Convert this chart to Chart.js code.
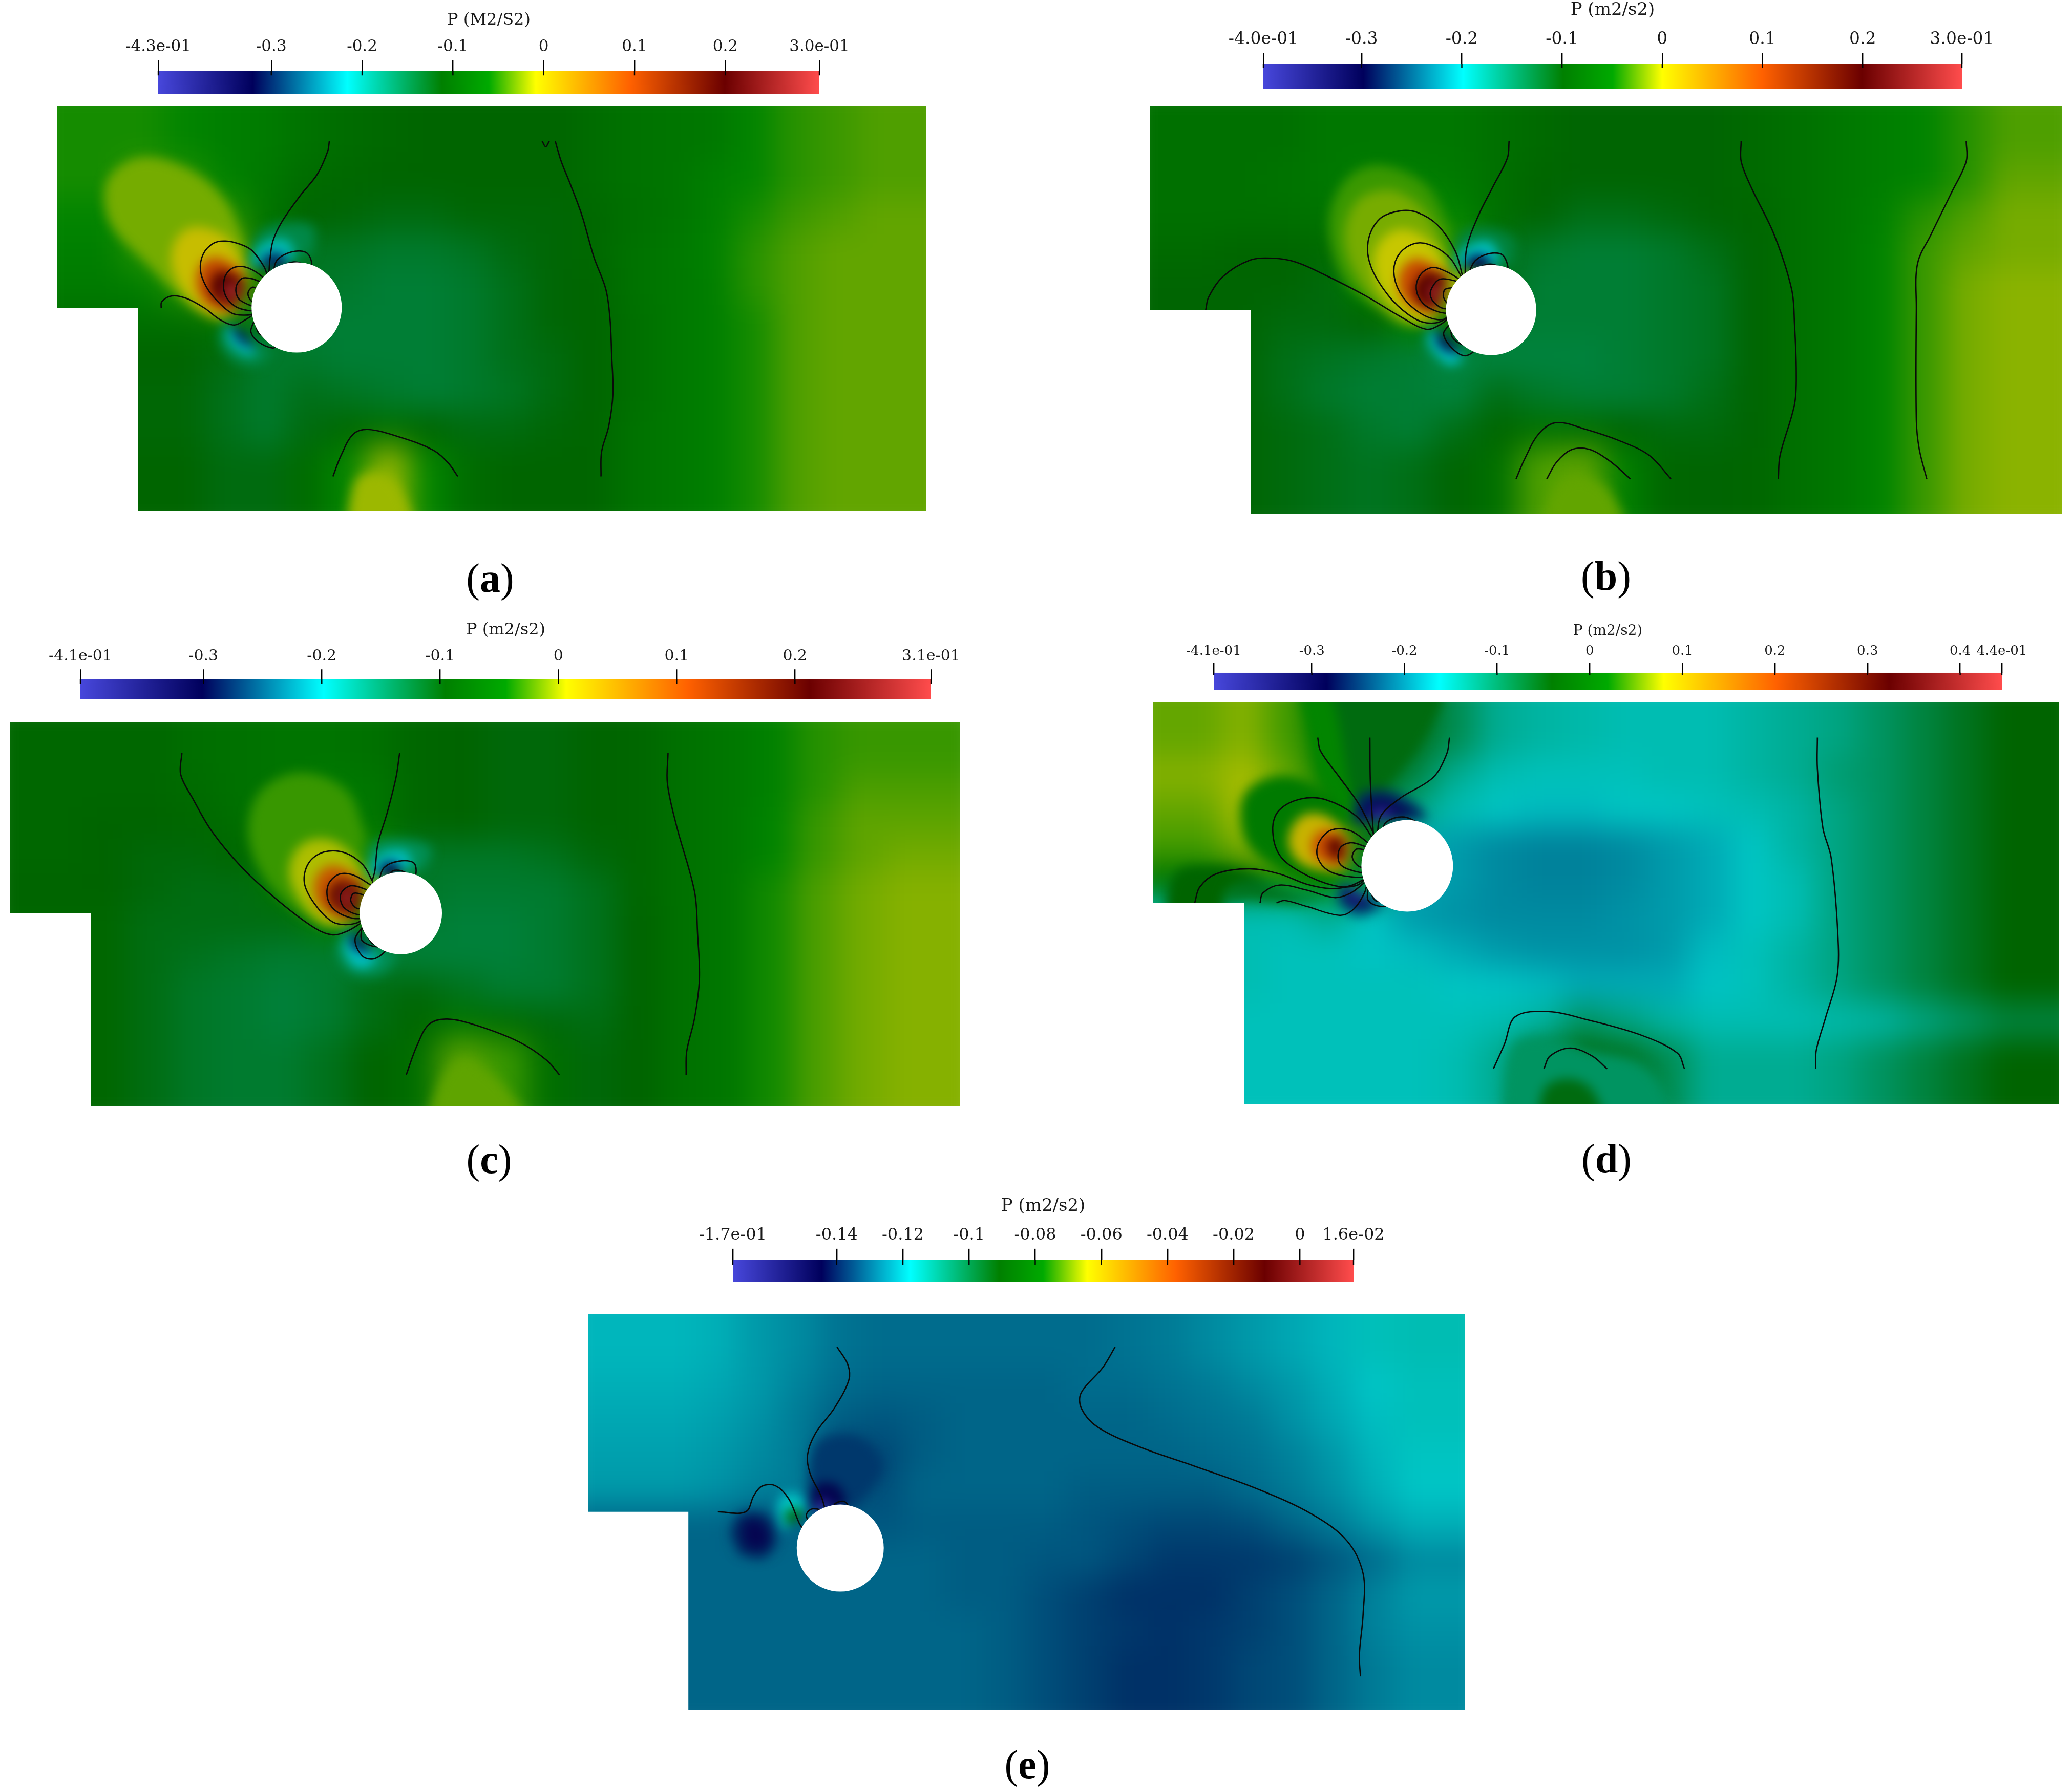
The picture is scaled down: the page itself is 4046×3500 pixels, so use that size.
<!DOCTYPE html>
<html>
<head>
<meta charset="utf-8">
<title>P (m2/s2)</title>
<script src="https://cdn.jsdelivr.net/npm/chart.js@4"></script>
<style>
html,body{margin:0;padding:0;background:#fff}
#page{position:relative;width:4046px;height:3500px;overflow:hidden;background:#fff}
.domain{position:absolute;overflow:hidden}
.domain canvas,.bar canvas{position:absolute}
.bar{position:absolute}
.cap{position:absolute;font-family:"Liberation Serif",serif;font-size:80px;line-height:100px;color:#000;transform:translate(-50%,-50%)}
</style>
</head>
<body>
<div id="page"></div>
<script>
// colour bar ticks
const ticksA = [-0.4245,-0.3,-0.2,-0.1,0,0.1,0.2,0.3036];
const tickLabelsA = ['-4.3e-01','-0.3','-0.2','-0.1','0','0.1','0.2','3.0e-01'];
const ticksB = [-0.398,-0.3,-0.2,-0.1,0,0.1,0.2,0.299];
const tickLabelsB = ['-4.0e-01','-0.3','-0.2','-0.1','0','0.1','0.2','3.0e-01'];
const ticksC = [-0.404,-0.3,-0.2,-0.1,0,0.1,0.2,0.315];
const tickLabelsC = ['-4.1e-01','-0.3','-0.2','-0.1','0','0.1','0.2','3.1e-01'];
const ticksD = [-0.406,-0.3,-0.2,-0.1,0,0.1,0.2,0.3,0.4,0.445];
const tickLabelsD = ['-4.1e-01','-0.3','-0.2','-0.1','0','0.1','0.2','0.3','0.4','4.4e-01'];
const ticksE = [-0.1714,-0.14,-0.12,-0.1,-0.08,-0.06,-0.04,-0.02,0,0.0162];
const tickLabelsE = ['-1.7e-01','-0.14','-0.12','-0.1','-0.08','-0.06','-0.04','-0.02','0','1.6e-02'];

// pressure, 20 columns x 10 rows, in units of 0.01 (0.001 for e)
const gridA = [
[-5.5,-5.5,-6,-7,-7.5,-9,-10,-10.5,-11,-11,-11,-11,-10,-9,-8.5,-8,-6,-5,-4.5,-4],
[-5.5,-4.5,-5,-6.5,-8,-10,-10.5,-11,-11,-11,-11,-11,-10,-9,-8.5,-7,-6,-5,-4.5,-4],
[-6,-4.5,-3.5,-5,-8.5,-11,-11.5,-12,-12,-11.5,-11.5,-11.5,-10.5,-9.5,-8.5,-7,-5.5,-4.5,-4,-3.5],
[-7,-5,-2.5,-3,-9,-13,-13,-13.5,-13.5,-13,-12,-11.5,-10.5,-9,-8,-6.5,-5,-4,-3.5,-3.5],
[-7.5,-7,-5,0,-9,-13,-13.5,-14,-14,-13.5,-12.5,-11.5,-11,-9,-8,-7,-5,-4,-3.5,-3.5],
[-9.5,-9.5,-9.5,-9,-13,-14,-14,-14,-14,-13.5,-12.5,-11.5,-11,-9.5,-8,-7,-5.5,-4,-3.5,-3.5],
[-11,-11,-11,-12,-13.5,-13.5,-14,-14,-14,-13.5,-12.5,-12,-11,-9.5,-8,-7,-5.5,-4,-3.5,-3.5],
[-11.5,-11.5,-11.5,-12.5,-13.5,-12.5,-13,-13.5,-14,-13.5,-13,-12,-11,-9.5,-8,-7,-5.5,-4,-3.5,-3.5],
[-11.5,-11.5,-11.5,-12.5,-13.5,-12,-10.5,-9.5,-11,-12,-12,-11.5,-11,-9,-8,-7,-5.5,-4,-3.5,-3.5],
[-11,-11,-11,-12,-12,-10,-6,-2,-6,-10,-11,-11,-11,-9,-8,-7,-5.5,-4,-3.5,-3.5]];
const gridB = [
[-8,-8,-8,-7,-7,-7,-7,-8,-9,-10,-10,-10,-10,-9,-8,-7,-6,-5,-4,-3],
[-8,-8,-7.5,-7,-6,-6,-6.5,-8,-9.5,-10,-10,-10,-10,-9,-8,-7,-6,-5,-4,-2.5],
[-8,-8,-8,-7.5,-5,-4,-5,-8,-10,-11,-11,-10.5,-10,-9.5,-8,-7,-5.5,-4,-3,-2],
[-9,-9.5,-9.5,-9,-4,-2,-4,-11,-12,-12.5,-12.5,-12,-11,-10,-8,-7,-5,-3.5,-2.5,-2],
[-10,-10,-10,-10.5,-6,-1,0,-11,-12.5,-12.5,-12.5,-12,-11.5,-10,-8,-7,-5,-3.5,-2,-1.5],
[-10,-10,-10.5,-10.5,-10,-6,-10,-12.5,-12.5,-12.5,-12.5,-12,-11.5,-10,-8,-7,-5,-3.5,-2,-1.5],
[-10,-10,-11,-11.5,-12,-12.5,-13,-13,-13,-13,-12.5,-12,-11.5,-10,-8,-7,-5,-3.5,-2,-1.5],
[-10,-10,-11,-12,-12.5,-12.5,-13,-11,-12,-12.5,-12.5,-12,-11,-10,-8,-7,-5,-3.5,-2,-1.5],
[-10,-10,-10.5,-11,-12,-12.5,-11,-9.5,-8,-8.5,-10,-10.5,-10.5,-10,-8,-7,-5,-3.5,-2,-1.5],
[-10,-10,-10.5,-11,-11.5,-11,-10,-8,-3,-2.5,-6,-9.5,-10,-9.5,-8,-7,-5,-3.5,-2,-1.5]];
const gridC = [
[-9,-9,-9,-8,-7.5,-7,-7,-7.5,-9,-9.5,-10,-10,-9.5,-9,-7.5,-6.5,-5,-3.5,-3,-3],
[-9,-9,-9,-8.5,-7.5,-7,-6,-6.5,-9,-9.5,-10,-10,-9.5,-9,-7.5,-6.5,-5,-3.5,-2.5,-2.5],
[-9,-9.5,-9.5,-9,-8,-5.5,-4,-7,-9,-9.5,-10,-10,-9.5,-9,-7.5,-6.5,-4.5,-3,-2,-2],
[-9,-9.5,-10,-10,-9,-6,-3,-4,-11.5,-11.5,-11.5,-11,-10,-9,-7.5,-6.5,-4.5,-3,-2,-1.5],
[-9.5,-9.5,-10,-10.5,-10.5,-7,-3,0,-11.5,-12,-12,-12,-11,-9,-7.5,-6.5,-4,-2.5,-1.5,-1],
[-9,-9,-10.5,-10.5,-10.5,-10.5,-6,-8,-12,-12.5,-12.5,-12,-11,-9.5,-7.5,-6.5,-4,-2.5,-1.5,-1],
[-9,-9,-10.5,-11,-11.5,-12,-12,-12.5,-12.5,-12.5,-12.5,-12,-11,-9.5,-7.5,-6.5,-4,-2.5,-1.5,-1],
[-9,-9,-10.5,-11.5,-12,-12.5,-12,-10.5,-10,-11,-12,-12,-11,-9.5,-7.5,-6.5,-4,-2.5,-1.5,-1],
[-9,-9,-10.5,-11.5,-12,-12.5,-12,-10.5,-9,-7,-8.5,-10,-10.5,-9.5,-7.5,-6.5,-4,-2.5,-1.5,-1],
[-9,-9,-10.5,-11.5,-12,-12,-11,-9.5,-8,-2,-3,-8,-10,-9.5,-7.5,-6.5,-4,-2.5,-1.5,-1]];
const gridD = [
[5,6,4,0,-5,-6,-9,-13,-14,-14.5,-15,-15,-15,-14,-13,-12,-10,-8,-6,-4],
[6,7,5,1,-4,-8,-13,-15,-15.5,-15.5,-15.5,-15,-15,-14,-13,-11,-10,-8,-6,-4],
[5,7,7,3,-6,-12,-15,-16,-17,-17,-16,-16,-15.5,-15,-14,-12,-10,-8,-6,-4],
[4,6,8,6,-5,-18,-19,-20,-20.5,-20.5,-20,-19,-18,-16,-14,-12,-10,-8,-6,-4],
[-1,-2,2,2,-8,-18,-19,-20,-20.5,-20.5,-20,-19,-18,-16,-15,-12,-10,-8,-6,-4],
[-15,-15,-15,-13,-16,-19,-19.5,-20,-20,-20,-19.5,-19,-18,-16,-15,-12,-10,-8,-6,-4],
[-15,-15,-15.5,-15.5,-16.5,-17,-18,-19,-19.5,-19.5,-19.5,-19,-17,-15.5,-14,-12,-10,-8,-6,-4],
[-15,-15,-15.5,-15.5,-15.5,-15.5,-16,-16.5,-17,-18,-18,-18,-16.5,-15.5,-14,-12,-10,-8,-6,-4],
[-15.5,-15.5,-15.5,-15.5,-15.5,-15.5,-15.5,-15,-14,-10,-12,-14,-15,-15,-15,-14.5,-14,-12,-10,-8],
[-15.5,-15.5,-15.5,-15.5,-15.5,-15.5,-15,-13,-8,-5,-6,-9,-13,-13,-13,-12,-10,-8,-6,-4]];
const gridE = [
[-120,-120,-121,-124,-126,-129,-130,-130,-130,-130,-130,-130,-129,-128,-126,-124,-122,-120,-116,-115],
[-121,-121,-122,-124,-127,-130,-131,-131,-131,-131,-131,-130,-130,-129,-128,-126,-124,-121,-118,-116],
[-122,-122,-123,-125,-128,-132,-133,-132,-131,-131,-131,-131,-131,-130,-129,-128,-125,-122,-119,-116],
[-123,-123,-124,-126,-128,-135,-135,-132,-131,-131,-131,-131,-131,-131,-130,-129,-127,-124,-120,-117],
[-124,-124,-125,-127,-128,-134,-134,-131,-131,-131,-131,-132,-132,-132,-132,-130,-128,-125,-121,-118],
[-131,-131,-131,-134,-131,-132,-133,-132,-132,-132,-132,-133,-134,-135,-135,-134,-131,-128,-124,-121],
[-131,-131,-131,-131,-131,-131,-131,-131,-132,-132,-133,-133,-135,-137,-137,-137,-136,-133,-130,-126],
[-131,-131,-131,-131,-131,-131,-131,-131,-132,-132,-134,-136,-138,-138,-138,-136,-134,-131,-127,-124],
[-131,-131,-131,-131,-131,-131,-131,-131,-131,-132,-134,-136,-137,-138,-137,-136,-134,-131,-127,-125],
[-131,-131,-131,-131,-131,-131,-131,-131,-131,-132,-134,-136,-138,-138,-137,-135,-134,-131,-128,-126]];

// open isolines
const linesA = [
[[480,277],[477,310],[460,380],[430,450],[400,530],[385,590],[380,650],[378,700]],
[[197,800],[198,780],[215,762],[240,770],[270,800],[295,835],[320,853],[340,835],[357,815]],
[[486,1327],[500,1260],[520,1195],[545,1180],[600,1205],[655,1245],[680,1285],[696,1327]],
[[860,277],[870,340],[885,410],[905,510],[925,640],[945,740],[952,830],[955,950],[957,1070],[950,1170],[938,1250],[937,1327]],
[[838,277],[844,295],[850,277]]];
const linesB = [
[[668,277],[665,330],[640,420],[615,510],[595,610],[592,700]],
[[145,805],[150,765],[175,700],[220,650],[260,643],[300,655],[350,695],[420,760],[480,825],[525,865],[550,850],[566,825]],
[[680,1333],[695,1270],[720,1190],[750,1157],[800,1178],[860,1215],[910,1260],[947,1333]],
[[733,1333],[750,1280],[775,1242],[805,1240],[840,1275],[877,1333]],
[[1068,277],[1068,340],[1085,420],[1125,570],[1155,740],[1160,850],[1163,1000],[1160,1100],[1135,1260],[1132,1333]],
[[1456,277],[1456,340],[1430,440],[1395,570],[1372,660],[1370,800],[1370,1150],[1375,1240],[1388,1333]]];
const linesC = [
[[240,299],[238,370],[258,450],[290,560],[340,680],[400,790],[460,880],[490,903],[515,890],[540,860]],
[[601,299],[595,380],[580,500],[565,600],[560,690],[556,720]],
[[612,1368],[630,1270],[650,1200],[680,1183],[730,1205],[800,1260],[845,1320],[866,1368]],
[[1046,299],[1045,400],[1060,540],[1090,760],[1095,900],[1098,1050],[1090,1180],[1077,1290],[1076,1368]]];
const linesD = [
[[270,245],[275,290],[310,380],[345,470],[372,570],[375,590]],
[[365,245],[366,400],[372,590]],
[[510,245],[505,300],[480,380],[420,450],[385,510],[378,585]],
[[46,803],[55,750],[85,705],[145,688],[200,705],[250,740],[295,755],[330,745],[358,720]],
[[165,803],[170,770],[200,743],[250,760],[300,785],[330,770],[358,730]],
[[195,803],[210,795],[250,815],[310,845],[335,825],[355,770],[360,735]],
[[590,1363],[610,1280],[630,1187],[690,1170],[760,1197],[860,1250],[925,1310],[938,1363]],
[[682,1363],[693,1320],[730,1293],[770,1320],[797,1363]],
[[1180,245],[1180,350],[1190,550],[1205,650],[1217,900],[1216,1050],[1195,1190],[1178,1300],[1177,1363]]];
const linesE = [
[[435,294],[455,350],[457,400],[430,490],[395,570],[380,640],[385,700],[405,770],[414,820]],
[[213,822],[265,822],[280,770],[295,740],[320,738],[345,780],[365,860],[373,880]],
[[953,294],[930,360],[890,440],[890,490],[920,550],[1000,615],[1100,675],[1220,750],[1320,830],[1385,915],[1415,1020],[1415,1150],[1408,1280],[1410,1349]]];

// closed isolines around the cylinder: level, then outline. outer first
const lobesA = [
[0,[[376,700],[370,670],[350,620],[330,600],[305,590],[285,597],[268,630],[263,680],[272,730],[290,775],[315,815],[335,822],[355,815],[376,760]]],
[0.1,[[374,712],[355,685],[335,670],[315,677],[303,710],[305,760],[322,795],[345,808],[357,805],[376,760]]],
[0.2,[[372,725],[350,708],[333,707],[323,735],[327,770],[345,790],[358,795],[376,760]]],
[0.27,[[362,740],[350,735],[343,755],[350,780],[358,775],[370,755]]],
[-0.21,[[385,690],[392,650],[415,625],[440,625],[450,655],[447,685],[420,700]]],
[-0.3,[[395,690],[410,660],[430,658],[442,685],[420,700]]],
[-0.21,[[352,845],[348,875],[360,905],[385,925],[392,910],[370,860]]],
[-0.3,[[355,845],[362,880],[390,905],[375,865]]]];
const lobesB = [
[-0.02,[[588,700],[575,620],[545,540],[510,500],[480,495],[445,520],[425,590],[430,670],[460,760],[495,820],[525,845],[556,835],[580,770]]],
[0,[[587,705],[565,640],[530,600],[500,600],[475,640],[470,700],[485,765],[515,815],[545,835],[566,825],[580,770]]],
[0.1,[[588,715],[560,685],[535,672],[515,695],[508,740],[520,785],[545,810],[566,812],[580,770]]],
[0.2,[[585,718],[550,708],[535,735],[533,765],[548,795],[566,800],[580,770]]],
[0.26,[[578,735],[558,740],[555,765],[566,790],[574,760]]],
[-0.2,[[598,690],[610,650],[635,628],[658,635],[665,690],[640,700]]],
[-0.3,[[610,690],[625,665],[645,665],[655,690],[635,700]]],
[-0.2,[[565,850],[555,880],[570,925],[592,948],[610,925],[585,895]]],
[-0.3,[[568,855],[570,890],[590,915],[605,912],[585,880]]]];
const lobesC = [
[0,[[556,725],[540,670],[510,630],[475,628],[450,665],[443,730],[460,800],[490,860],[520,868],[540,850],[555,790]]],
[0.1,[[555,740],[525,705],[500,702],[482,740],[485,800],[510,840],[540,845],[555,790]]],
[0.2,[[550,755],[520,740],[503,770],[510,815],[540,835],[555,790]]],
[0.27,[[542,770],[525,765],[520,790],[530,815],[540,810]]],
[-0.2,[[566,730],[575,680],[600,658],[625,665],[625,712],[590,730]]],
[-0.3,[[578,720],[590,690],[610,695],[615,715],[595,730]]],
[-0.2,[[540,875],[527,920],[540,975],[560,982],[578,950],[555,930]]],
[-0.3,[[538,880],[538,920],[555,940],[568,940],[550,905]]]];
const lobesD = [
[0,[[372,590],[340,510],[285,455],[240,452],[200,490],[188,550],[200,640],[240,700],[300,745],[340,745],[358,715],[370,650]]],
[0.1,[[365,605],[330,560],[295,557],[272,600],[270,650],[290,695],[330,715],[358,710],[370,650]]],
[0.2,[[360,615],[330,600],[310,620],[310,670],[335,695],[358,697],[370,650]]],
[0.32,[[358,625],[340,622],[333,650],[345,680],[358,680]]],
[-0.3,[[385,570],[395,530],[425,513],[455,535],[470,560],[425,570]]],
[-0.38,[[395,565],[420,540],[445,557],[420,570]]],
[-0.3,[[362,750],[362,795],[385,815],[410,800],[385,780]]],
[-0.38,[[365,760],[375,795],[395,795],[378,775]]]];
const lobesE = [
[-0.09,[[383,860],[378,830],[390,812],[412,825]]],
[-0.165,[[425,822],[432,795],[450,790],[458,822]]]];

// soft patches without an isoline: level, then outline. outer first
const patchesA = [
[-0.03,[[375,640],[345,520],[290,440],[215,410],[165,470],[170,580],[230,690],[290,790],[340,835]]],
[-0.15,[[380,700],[395,610],[430,580],[480,590],[480,660]]],
[-0.15,[[345,830],[335,880],[355,935],[395,950],[420,915]]],
[-0.02,[[530,1390],[545,1250],[575,1225],[610,1260],[640,1390]]]];
const patchesB = [
[-0.035,[[590,600],[550,480],[480,430],[430,460],[400,560],[410,680],[440,760],[530,845]]],
[-0.13,[[590,700],[605,610],[640,590],[690,620],[690,690]]],
[-0.13,[[555,845],[545,900],[565,965],[610,970],[640,920]]],
[-0.025,[[733,1400],[750,1280],[775,1242],[805,1240],[840,1275],[877,1400]]]];
const patchesC = [
[-0.03,[[560,620],[530,490],[460,440],[400,490],[380,600],[400,720],[450,820],[510,870]]],
[-0.14,[[560,730],[570,640],[610,625],[660,650],[650,710]]],
[-0.14,[[530,870],[515,940],[540,1000],[585,1000],[610,950]]],
[-0.02,[[650,1430],[680,1280],[710,1240],[760,1290],[820,1430]]]];
const patchesD = [
[-0.05,[[300,190],[520,190],[480,380],[385,520],[368,470]]],
[0.02,[[280,190],[330,190],[368,470],[372,570],[320,460]]],
[-0.04,[[60,860],[80,720],[145,700],[200,720],[240,760],[200,743],[165,770],[165,860]]],
[-0.06,[[165,803],[170,770],[200,743],[250,760],[300,785],[330,770],[300,800],[250,800],[200,790]]],
[-0.1,[[620,1420],[640,1200],[690,1180],[760,1210],[860,1260],[920,1420]]],
[-0.05,[[682,1420],[693,1320],[730,1293],[770,1320],[797,1420]]],
[-0.26,[[375,580],[385,505],[430,490],[480,530],[500,570]]],
[-0.24,[[355,745],[350,800],[385,840],[430,810]]]];
const patchesE = [
[-0.137,[[415,820],[430,640],[500,620],[545,700],[500,810]]],
[-0.146,[[418,815],[430,750],[465,750],[480,800],[460,822]]],
[-0.14,[[285,880],[300,830],[345,830],[362,900],[340,945],[300,935]]],
[-0.147,[[305,875],[315,845],[340,855],[350,900],[335,920],[312,915]]],
[-0.118,[[373,875],[365,800],[385,770],[410,790],[414,822]]]];

// cx, cy and radius in picture units
const cylinderA = [425,798,69];
const cylinderB = [637,805,71];
const cylinderC = [603,831,63];
const cylinderD = [433,678,76];
const cylinderE = [441,938,74];

const panels = [
 {name:'a',unit:0.01,grid:gridA,lines:linesA,lobes:lobesA,patches:patchesA,cyl:cylinderA,ticks:ticksA,labels:tickLabelsA,
  box:[111,208,1698,790],range:[88,1418,277,1327],notch:[212,800],
  bar:[309,138,1291,46],tickLen:21,stub:9,size:31,titleSize:32,titleY:47,title:'P (M2/S2)',cap:[957,1129]},
 {name:'b',unit:0.01,grid:gridB,lines:linesB,lobes:lobesB,patches:patchesB,cyl:cylinderB,ticks:ticksB,labels:tickLabelsB,
  box:[2245,208,1782,795],range:[117,1553,277,1333],notch:[276,805],
  bar:[2467,125,1364,49],tickLen:21,stub:8,size:33,titleSize:34,titleY:29,title:'P (m2/s2)',cap:[3136,1125]},
 {name:'c',unit:0.01,grid:gridC,lines:linesC,lobes:lobesC,patches:patchesC,cyl:cylinderC,ticks:ticksC,labels:tickLabelsC,
  box:[19,1410,1856,750],range:[15,1470,299,1368],notch:[139,831],
  bar:[157,1326,1661,40],tickLen:19,stub:9,size:30,titleSize:32,titleY:1238,title:'P (m2/s2)',cap:[955,2264]},
 {name:'d',unit:0.01,grid:gridD,lines:linesD,lobes:lobesD,patches:patchesD,cyl:cylinderD,ticks:ticksD,labels:tickLabelsD,
  box:[2252,1372,1768,784],range:[44,1546,245,1363],notch:[195,803],
  bar:[2370,1314,1539,33],tickLen:19,stub:5,size:26,titleSize:28,titleY:1240,title:'P (m2/s2)',cap:[3137,2263]},
 {name:'e',unit:0.001,grid:gridE,lines:linesE,lobes:lobesE,patches:patchesE,cyl:cylinderE,ticks:ticksE,labels:tickLabelsE,
  box:[1149,2566,1712,773],range:[43,1534,294,1349],notch:[213,822],
  bar:[1431,2461,1212,42],tickLen:22,stub:10,size:32,titleSize:34,titleY:2365,title:'P (m2/s2)',cap:[2006,3446]}
];

// paraview rainbow desaturated, as seen in the bars
const stops = [[0,71,71,219],[0.143,0,0,92],[0.286,0,255,255],[0.429,0,128,0],[0.5,0,170,0],[0.571,255,255,0],[0.714,255,97,0],[0.857,107,0,0],[1,255,76,76]];
const shade = 0.78; // the 3D view is darker than the bar
const pad = 120;
const serif = '"DejaVu Serif",serif';

function colorAt(t, k){
  t = Math.max(0, Math.min(1, t));
  for(let i=1;i<stops.length;i++){
    if(t <= stops[i][0]){
      const a = stops[i-1], b = stops[i], f = (t-a[0])/(b[0]-a[0]);
      return 'rgb(' + [1,2,3].map(c => Math.round((a[c]+(b[c]-a[c])*f)*k)).join(',') + ')';
    }
  }
  return 'rgb(255,76,76)';
}

const page = document.getElementById('page');

function addCanvas(parent, left, top, w, h, blur){
  const c = document.createElement('canvas');
  c.width = w; c.height = h;
  c.style.cssText = 'left:'+left+'px;top:'+top+'px;width:'+w+'px;height:'+h+'px;' + (blur ? 'filter:blur('+blur+'px);' : '');
  parent.appendChild(c);
  return c;
}

function plainOptions(xMin, xMax, yMin, yMax){
  return {
    responsive:false, animation:false, devicePixelRatio:1, events:[],
    layout:{padding:0},
    plugins:{legend:{display:false},tooltip:{enabled:false}},
    scales:{
      x:{type:'linear',display:false,min:xMin,max:xMax},
      y:{type:'linear',display:false,min:yMin,max:yMax,reverse:true}
    }
  };
}

const toXY = pts => pts.map(p => ({x:p[0],y:p[1]}));

function drawPanel(p){
  const [bx,by,bw,bh] = p.box, [x0,x1,y0,y1] = p.range;
  const ux = (x1-x0)/bw, uy = (y1-y0)/bh;
  const cw = bw+2*pad, ch = bh+2*pad;
  const lo = p.ticks[0], hi = p.ticks[p.ticks.length-1];
  const fieldColor = v => colorAt((v-lo)/(hi-lo), shade);

  const nx = (p.notch[0]-x0)/ux, ny = (p.notch[1]-y0)/uy;
  const box = document.createElement('div');
  box.className = 'domain';
  box.style.cssText = 'left:'+bx+'px;top:'+by+'px;width:'+bw+'px;height:'+bh+'px;clip-path:polygon(0 0,100% 0,100% 100%,'+nx+'px 100%,'+nx+'px '+ny+'px,0 '+ny+'px);';
  page.appendChild(box);
  const opts = () => plainOptions(x0-pad*ux, x1+pad*ux, y0-pad*uy, y1+pad*uy);

  // coarse field, the blur of the canvas makes it smooth
  const rows = p.grid.length, cols = p.grid[0].length;
  const dx = (x1-x0)/cols, dy = (y1-y0)/rows;
  const cellPts = [], cellCols = [];
  for(let j=-2;j<rows+2;j++){
    for(let i=-2;i<cols+2;i++){
      const v = p.grid[Math.max(0,Math.min(rows-1,j))][Math.max(0,Math.min(cols-1,i))]*p.unit;
      cellPts.push({x:x0+(i+0.5)*dx,y:y0+(j+0.5)*dy});
      cellCols.push(fieldColor(v));
    }
  }
  const cellPx = Math.max(dx/ux,dy/uy);
  new Chart(addCanvas(box,-pad,-pad,cw,ch,30),{type:'scatter',
    data:{datasets:[{data:cellPts,pointStyle:'rect',pointRadius:cellPx/Math.SQRT2+1,pointBorderWidth:0,pointBackgroundColor:cellCols}]},
    options:opts()});

  // patches and lobes, filled with the colour of their level
  const fills = p.patches.concat(p.lobes);
  new Chart(addCanvas(box,-pad,-pad,cw,ch,11),{type:'scatter',
    data:{datasets:fills.map((f,i) => ({data:toXY(f[1]),showLine:true,fill:'shape',tension:0.35,
      order:fills.length-i,borderWidth:0,pointRadius:0,backgroundColor:fieldColor(f[0])}))},
    options:opts()});

  // isolines and the cylinder on top, not blurred
  const strokes = p.lines.map(l => ({pts:l,closed:false})).concat(p.lobes.map(l => ({pts:l[1],closed:true})));
  const cyl = p.cyl;
  const sets = [{data:[{x:cyl[0],y:cyl[1]}],pointStyle:'circle',pointRadius:cyl[2]/ux,pointBorderWidth:0,pointBackgroundColor:'#fff'}];
  strokes.forEach(s => sets.push({
    data:toXY(s.closed ? s.pts.concat([s.pts[0]]) : s.pts),showLine:true,tension:0.35,
    borderColor:'#0a0a0a',borderWidth:2.6,pointRadius:0,fill:false}));
  new Chart(addCanvas(box,-pad,-pad,cw,ch,0),{type:'scatter',data:{datasets:sets},options:opts()});

  drawBar(p);

  const cap = document.createElement('div');
  cap.className = 'cap';
  cap.style.left = p.cap[0]+'px';
  cap.style.top = p.cap[1]+'px';
  cap.innerHTML = '(<b>'+p.name+'</b>)';
  page.appendChild(cap);
}

function drawBar(p){
  const [bx,by,bw,bh] = p.bar, side = 90;
  const lo = p.ticks[0], hi = p.ticks[p.ticks.length-1];
  const head = by - p.titleY + p.titleSize*0.85; // from top of the canvas down to the bar
  const holder = document.createElement('div');
  holder.className = 'bar';
  holder.style.cssText = 'left:'+(bx-side)+'px;top:'+(by-head)+'px;';
  page.appendChild(holder);
  const canvas = addCanvas(holder,0,0,bw+2*side,Math.round(head+bh+4),0);

  const stubTop = 1, stubEnd = 1-p.stub/bh;
  const stubPts = [];
  p.ticks.forEach(v => stubPts.push({x:v,y:stubTop},{x:v,y:stubEnd},{x:v,y:null}));

  new Chart(canvas,{type:'scatter',
    data:{datasets:[
      {data:stubPts,showLine:true,spanGaps:false,borderColor:'#000',borderWidth:2.4,pointRadius:0,clip:false,fill:false},
      {data:[{x:lo,y:1},{x:hi,y:1}],showLine:true,pointRadius:0,borderWidth:0,fill:'start',
       backgroundColor:ctx => {
         const a = ctx.chart.chartArea;
         if(!a) return '#000';
         const g = ctx.chart.ctx.createLinearGradient(a.left,0,a.right,0);
         stops.forEach(s => g.addColorStop(s[0],'rgb('+s[1]+','+s[2]+','+s[3]+')'));
         return g;
       }}
    ]},
    options:{
      responsive:false, animation:false, devicePixelRatio:1, events:[],
      layout:{padding:{left:side,right:side,top:0,bottom:4}},
      plugins:{legend:{display:false},tooltip:{enabled:false}},
      scales:{
        x:{type:'linear',position:'top',min:lo,max:hi,
          afterBuildTicks:s => { s.ticks = p.ticks.map(v => ({value:v})); },
          afterFit:s => { s.height = head; },
          border:{display:false},
          grid:{drawOnChartArea:false,drawTicks:true,tickLength:p.tickLen,color:'#000',lineWidth:2.4},
          ticks:{autoSkip:false,maxRotation:0,minRotation:0,padding:7,color:'#1a1a1a',
            font:{family:serif,size:p.size},
            callback:(v,i) => p.labels[i]},
          title:{display:true,text:p.title,color:'#1a1a1a',font:{family:serif,size:p.titleSize},padding:{top:0,bottom:0}}
        },
        y:{type:'linear',display:false,min:0,max:1}
      }
    }
  });
}

panels.forEach(drawPanel);
</script>
</body>
</html>
